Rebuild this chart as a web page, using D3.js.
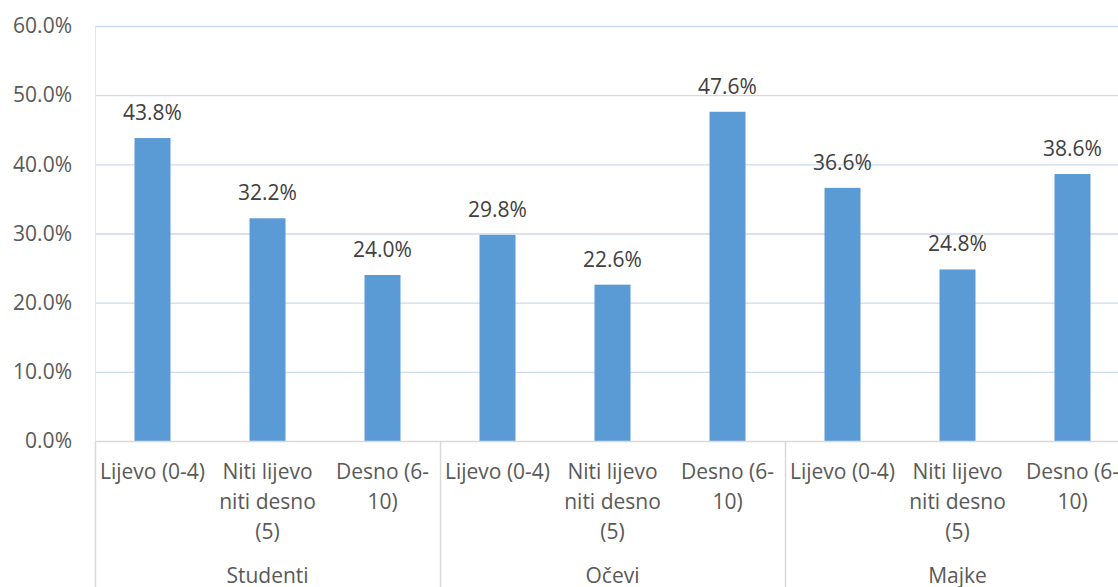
<!DOCTYPE html>
<html>
<head>
<meta charset="utf-8">
<script src="https://cdn.jsdelivr.net/npm/d3@7"></script>
<style>
  body { margin:0; background:#fff; }
  svg text { font-family:"Open Sans", sans-serif; }
</style>
</head>
<body>
<div id="chart"></div>
<script>
// chart values
var groups = ["Studenti", "Očevi", "Majke"]
var categories = ["Lijevo (0-4)", "Niti lijevo niti desno (5)", "Desno (6-10)"]
// wrapped the way the original shows them
var category_lines = [["Lijevo (0-4)"], ["Niti lijevo", "niti desno", "(5)"], ["Desno (6-", "10)"]]
var values = [43.8, 32.2, 24.0, 29.8, 22.6, 47.6, 36.6, 24.8, 38.6]
var y_ticks = [0, 10, 20, 30, 40, 50, 60]

var width = 1118, height = 587
var margin = {top: 26, left: 95, bottom: 146}
var plot_right = margin.left + 115 * 9
var base_y = height - margin.bottom
var font_size = "21px"

var rows = []
groups.forEach(function(g, gi){
    categories.forEach(function(c, ci){
        rows.push({key: gi + "_" + ci, group: g, cat: ci, value: values[gi * categories.length + ci]})
    })
})

var svg = d3.select("#chart").append("svg")
    .attr("width", width)
    .attr("height", height)

var x = d3.scaleBand()
    .domain(rows.map(d => d.key))
    .range([margin.left, plot_right])
    .paddingInner(0.687)
    .paddingOuter(0.3435)

var xg = d3.scaleBand()
    .domain(groups)
    .range([margin.left, plot_right])

var y = d3.scaleLinear()
    .domain([0, 60])
    .range([base_y, margin.top])

// gridlines
svg.append("g")
    .selectAll("line")
    .data(y_ticks.filter(d => d > 0))
    .join("line")
    .attr("x1", margin.left)
    .attr("x2", plot_right)
    .attr("y1", d => y(d) + 0.5)
    .attr("y2", d => y(d) + 0.5)
    .attr("stroke", "#cdd9ee")
    .attr("stroke-width", 1.3)

// left axis line (light)
svg.append("line")
    .attr("x1", margin.left + 0.5).attr("x2", margin.left + 0.5)
    .attr("y1", margin.top).attr("y2", base_y)
    .attr("stroke", "#dde5f3")

// y axis labels
var yAxis = svg.append("g")
    .attr("transform", `translate(${margin.left},0)`)
    .call(d3.axisLeft(y).tickValues(y_ticks).tickSize(0).tickPadding(23)
        .tickFormat(d => d3.format(".1f")(d) + "%"))
yAxis.select(".domain").remove()
yAxis.selectAll("text")
    .style("font-size", font_size)
    .attr("fill", "#595959")
    .attr("font-family", "Open Sans, sans-serif")

// bars
svg.append("g")
    .selectAll("rect")
    .data(rows)
    .join("rect")
    .attr("x", d => x(d.key))
    .attr("y", d => y(d.value))
    .attr("width", x.bandwidth())
    .attr("height", d => base_y - y(d.value))
    .attr("fill", "#5b9bd5")

// data labels
svg.append("g")
    .selectAll("text")
    .data(rows)
    .join("text")
    .attr("x", d => x(d.key) + x.bandwidth() / 2)
    .attr("y", d => y(d.value) - 18)
    .attr("text-anchor", "middle")
    .style("font-size", font_size)
    .attr("fill", "#404040")
    .text(d => d3.format(".1f")(d.value) + "%")

// category axis: baseline and separators
svg.append("line")
    .attr("x1", margin.left).attr("x2", plot_right)
    .attr("y1", base_y + 0.5).attr("y2", base_y + 0.5)
    .attr("stroke", "#d9d9d9")
    .attr("stroke-width", 1.5)

svg.append("g")
    .selectAll("line")
    .data(groups)
    .join("line")
    .attr("x1", d => xg(d) + 0.5)
    .attr("x2", d => xg(d) + 0.5)
    .attr("y1", base_y)
    .attr("y2", height)
    .attr("stroke", "#d9d9d9")
    .attr("stroke-width", 1.5)

// category labels, wrapped
var cat_labels = svg.append("g")
    .selectAll("text")
    .data(rows)
    .join("text")
    .attr("x", d => x(d.key) + x.bandwidth() / 2)
    .attr("y", base_y + 38)
    .attr("text-anchor", "middle")
    .style("font-size", font_size)
    .attr("fill", "#595959")

cat_labels.selectAll("tspan")
    .data(d => category_lines[d.cat].map(t => ({t: t, x: x(d.key) + x.bandwidth() / 2})))
    .join("tspan")
    .attr("x", d => d.x)
    .attr("dy", (d, i) => i == 0 ? 0 : 30)
    .text(d => d.t)

// group labels
svg.append("g")
    .selectAll("text")
    .data(groups)
    .join("text")
    .attr("x", d => xg(d) + xg.bandwidth() / 2)
    .attr("y", base_y + 142)
    .attr("text-anchor", "middle")
    .style("font-size", font_size)
    .attr("fill", "#595959")
    .text(d => d)
</script>
</body>
</html>
